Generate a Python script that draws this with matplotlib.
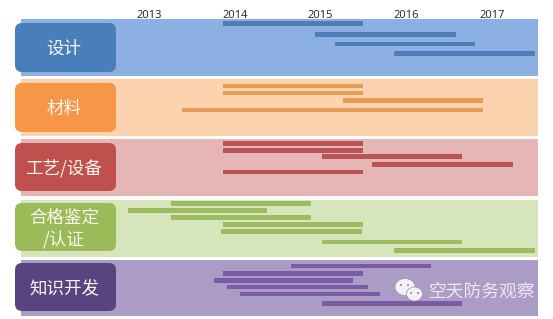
#Gantt style roadmap chart, five groups of bars over years
import matplotlib
matplotlib.use('Agg')
import matplotlib.pyplot as plt
from matplotlib.patches import FancyBboxPatch, Ellipse, Circle

plt.rcParams['font.family'] = ['Noto Sans CJK SC', 'DejaVu Sans']

W, H = 553, 319

years = [2013, 2014, 2015, 2016, 2017]
group_names = ['设计', '材料', '工艺/设备', '合格鉴定\n/认证', '知识开发']

#bar start, bar end (years) and lane (pixel row) for every group
design_start = [2013.86, 2014.94, 2015.17, 2015.86]
design_end = [2015.49, 2016.58, 2016.80, 2017.50]
design_lane = [23.5, 34.7, 44, 53.5]

material_start = [2013.86, 2013.86, 2015.26, 2013.38]
material_end = [2015.49, 2015.49, 2016.89, 2016.89]
material_lane = [86, 93, 100.7, 110]

process_start = [2013.86, 2013.86, 2015.02, 2015.60, 2013.86]
process_end = [2015.49, 2015.49, 2016.65, 2017.24, 2015.49]
process_lane = [143.5, 150.5, 156.7, 164.7, 172]

qualify_start = [2013.26, 2012.76, 2013.26, 2013.86, 2013.84, 2015.02, 2015.86]
qualify_end = [2014.89, 2014.38, 2014.89, 2015.49, 2015.48, 2016.65, 2017.50]
qualify_lane = [203.7, 210.7, 217.7, 224.7, 231.7, 242, 250.7]

know_start = [2014.66, 2013.86, 2013.76, 2013.91, 2014.06, 2015.02]
know_end = [2016.29, 2015.49, 2015.38, 2015.55, 2015.69, 2016.65]
know_lane = [266, 273.3, 280.7, 287, 294, 303.3]

starts = [design_start, material_start, process_start, qualify_start, know_start]
ends = [design_end, material_end, process_end, qualify_end, know_end]
lanes = [design_lane, material_lane, process_lane, qualify_lane, know_lane]

#band top and bottom, label box top and bottom
band_top = [19, 79, 139, 199.5, 260]
band_bottom = [76, 136, 196, 256.5, 316]
box_top = [23, 83, 143, 203, 263]
box_bottom = [72, 132, 191, 251, 311]

band_colors = ['#8CB0E2', '#FBD3AE', '#E6B5B5', '#D6E5BA', '#AB9CC6']
bar_colors = ['#4F7DB8', '#E69C55', '#B85357', '#9DBB61', '#7A5CA4']
box_colors = ['#4A7EBB', '#F79646', '#C0504D', '#9BBB59', '#594480']

fig = plt.figure(figsize=(W/100, H/100), dpi=100)

#chart axes, x in years, y in pixel rows
ax_l, ax_r, ax_t, ax_b = 21, 538, 19, 316
ax = fig.add_axes([ax_l/W, 1-ax_b/H, (ax_r-ax_l)/W, (ax_b-ax_t)/H])
px_per_year = 85.75
ax.set_xlim(2013+(ax_l-149)/px_per_year, 2013+(ax_r-149)/px_per_year)
ax.set_ylim(ax_b, ax_t)

for i in range(5):
    ax.axhspan(band_top[i], band_bottom[i], color=band_colors[i], lw=0, zorder=1)
    widths = [e-s for s, e in zip(starts[i], ends[i])]
    ax.barh(lanes[i], widths, left=starts[i], height=4.8, color=bar_colors[i], lw=0, zorder=2)

for s in ax.spines.values():
    s.set_visible(False)
ax.xaxis.tick_top()
ax.set_xticks(years)
ax.set_xticklabels([str(y) for y in years], fontsize=8, family='Open Sans', color='#222222')
ax.tick_params(axis='x', length=0, pad=-1.5)
ax.set_yticks([])

#overlay in pixels for the label boxes and the watermark
ov = fig.add_axes([0, 0, 1, 1], zorder=3)
ov.set_xlim(0, W)
ov.set_ylim(H, 0)
ov.axis('off')
ov.patch.set_alpha(0)

for i in range(5):
    box = FancyBboxPatch((15+6, box_top[i]+6), 101-12, box_bottom[i]-box_top[i]-12,
                         boxstyle='round,pad=6,rounding_size=7', fc=box_colors[i], ec='none')
    ov.add_patch(box)
    ov.text(64, (box_top[i]+box_bottom[i])/2+1.5, group_names[i], ha='center', va='center',
            color='#FBF8EE', fontsize=12.6, linespacing=1.2)

#watermark
ov.add_patch(Ellipse((405, 287), 19, 16, fc='#F4F2F6', ec='none'))
ov.add_patch(Ellipse((414.5, 294), 16, 14, fc='#F4F2F6', ec='#A99BC4', lw=0.6))
for cx, cy in [(401, 285), (408, 285), (411, 293), (418, 293)]:
    ov.add_patch(Circle((cx, cy), 1, fc='#8F83A8', ec='none'))
ov.text(482, 292, '空天防务观察', ha='center', va='center', color='#F3F0F6',
        fontsize=12.8, alpha=0.9)

fig.savefig('out.png', dpi=100)
